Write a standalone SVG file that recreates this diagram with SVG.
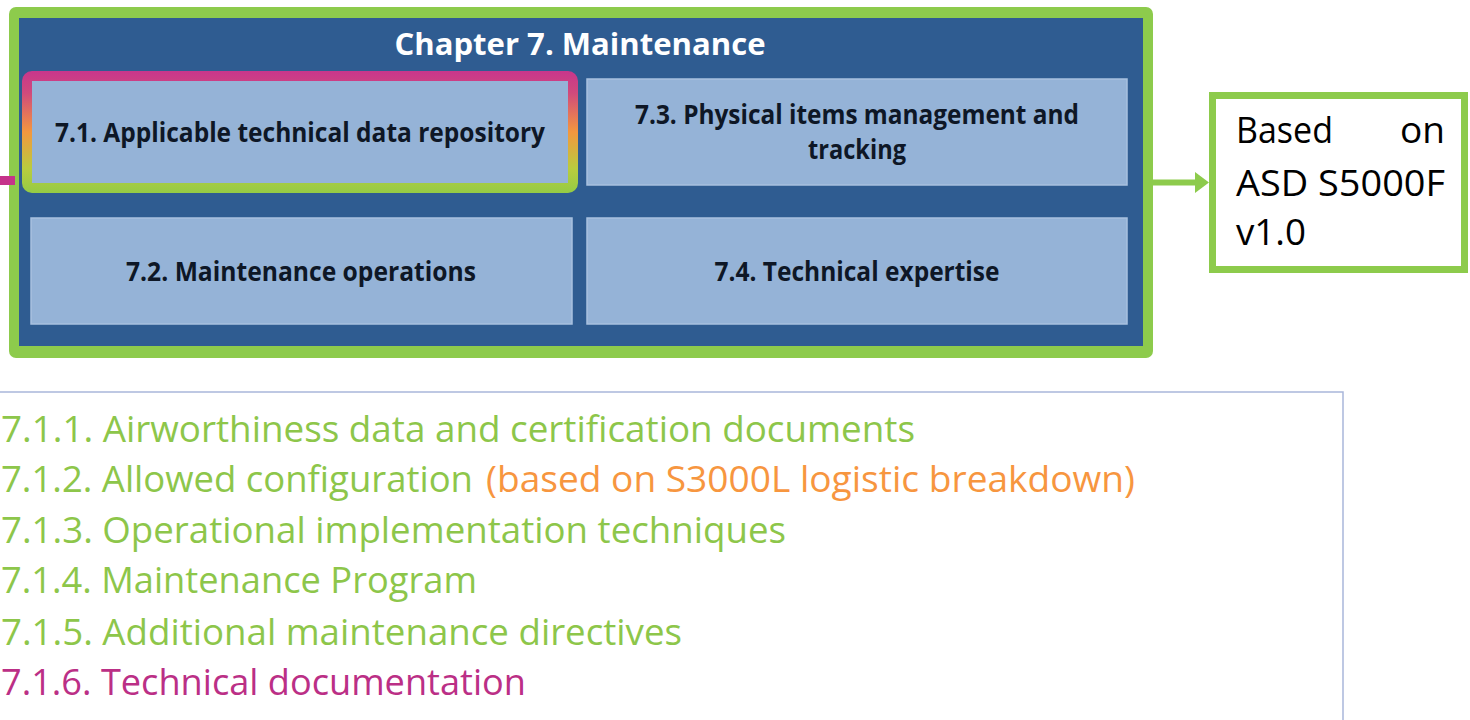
<svg xmlns="http://www.w3.org/2000/svg" width="1470" height="720" viewBox="0 0 1470 720">
<defs>
<linearGradient id="hl" gradientUnits="userSpaceOnUse" x1="0" y1="71" x2="0" y2="193">
<stop offset="0" stop-color="#C8368C"/>
<stop offset="0.18" stop-color="#D04A7C"/>
<stop offset="0.5" stop-color="#F4973E"/>
<stop offset="0.8" stop-color="#B9CC3E"/>
<stop offset="1" stop-color="#95CB45"/>
</linearGradient>
<style>
.sub{fill:#95B3D7;stroke:#A9C1DF;stroke-width:1.5}
.lbl{font-family:"Open Sans","Liberation Sans",sans-serif;font-weight:bold;font-size:26px;fill:#0E1726}
.title{font-family:"Open Sans","Liberation Sans",sans-serif;font-weight:bold;font-size:30px;fill:#FFFFFF}
.big{font-family:"Open Sans","Liberation Sans",sans-serif;font-size:37px;fill:#000000}
.li{font-family:"Open Sans","Liberation Sans",sans-serif;font-size:36px}
.g{fill:#8DC64A}
.o{fill:#F7963F}
.m{fill:#BB2F86}
</style>
</defs>
<g id="chapter7">
<rect x="9" y="7" width="1144" height="351" rx="7" fill="#8DCB4C"/>
<rect x="19" y="18" width="1124" height="328" fill="#2F5C91"/>
<text class="title" x="580" y="55" text-anchor="middle" textLength="371" lengthAdjust="spacingAndGlyphs">Chapter 7. Maintenance</text>
</g>
<g id="node-7-1">
<rect x="27" y="76" width="546" height="112" rx="5" fill="#95B3D7" stroke="url(#hl)" stroke-width="10"/>
<text class="lbl" x="300" y="142" text-anchor="middle" textLength="490" lengthAdjust="spacingAndGlyphs">7.1. Applicable technical data repository</text>
</g>
<g id="node-7-3">
<rect class="sub" x="587" y="79" width="540" height="106"/>
<text class="lbl" x="857" y="124" text-anchor="middle" textLength="444" lengthAdjust="spacingAndGlyphs">7.3. Physical items management and</text>
<text class="lbl" x="857" y="159" text-anchor="middle" textLength="98" lengthAdjust="spacingAndGlyphs">tracking</text>
</g>
<g id="node-7-2">
<rect class="sub" x="31" y="218" width="541" height="106"/>
<text class="lbl" x="301" y="281" text-anchor="middle" textLength="350" lengthAdjust="spacingAndGlyphs">7.2. Maintenance operations</text>
</g>
<g id="node-7-4">
<rect class="sub" x="587" y="218" width="540" height="106"/>
<text class="lbl" x="857" y="281" text-anchor="middle" textLength="285" lengthAdjust="spacingAndGlyphs">7.4. Technical expertise</text>
</g>
<g id="node-based">
<rect x="1212.5" y="95.5" width="252" height="174" fill="#FFFFFF" stroke="#8DCB4C" stroke-width="7"/>
<text class="big" x="1236" y="143" textLength="97" lengthAdjust="spacingAndGlyphs">Based</text>
<text class="big" x="1445" y="143" text-anchor="end" textLength="45" lengthAdjust="spacingAndGlyphs">on</text>
<text class="big" x="1236" y="196" textLength="209" lengthAdjust="spacingAndGlyphs">ASD S5000F</text>
<text class="big" x="1236" y="245" textLength="70" lengthAdjust="spacingAndGlyphs">v1.0</text>
</g>
<g id="node-list">
<rect x="-10" y="392" width="1353" height="340" fill="#FFFFFF" stroke="#A9B6DA" stroke-width="1.5"/>
<text class="li g" x="1" y="442" textLength="914" lengthAdjust="spacingAndGlyphs">7.1.1. Airworthiness data and certification documents</text>
<text class="li g" x="1" y="492" textLength="472" lengthAdjust="spacingAndGlyphs">7.1.2. Allowed configuration</text>
<text class="li o" x="486" y="492" textLength="649" lengthAdjust="spacingAndGlyphs">(based on S3000L logistic breakdown)</text>
<text class="li g" x="1" y="543" textLength="785" lengthAdjust="spacingAndGlyphs">7.1.3. Operational implementation techniques</text>
<text class="li g" x="1" y="593" textLength="476" lengthAdjust="spacingAndGlyphs">7.1.4. Maintenance Program</text>
<text class="li g" x="1" y="645" textLength="681" lengthAdjust="spacingAndGlyphs">7.1.5. Additional maintenance directives</text>
<text class="li m" x="1" y="695" textLength="525" lengthAdjust="spacingAndGlyphs">7.1.6. Technical documentation</text>
</g>
<g id="connectors">
<rect x="0" y="176" width="15" height="9" fill="#C5338A"/>
<line x1="1153" y1="182.5" x2="1197" y2="182.5" stroke="#8DCB4C" stroke-width="6"/>
<polygon points="1195,172 1209,182.5 1195,193" fill="#8DCB4C"/>
</g>
</svg>
